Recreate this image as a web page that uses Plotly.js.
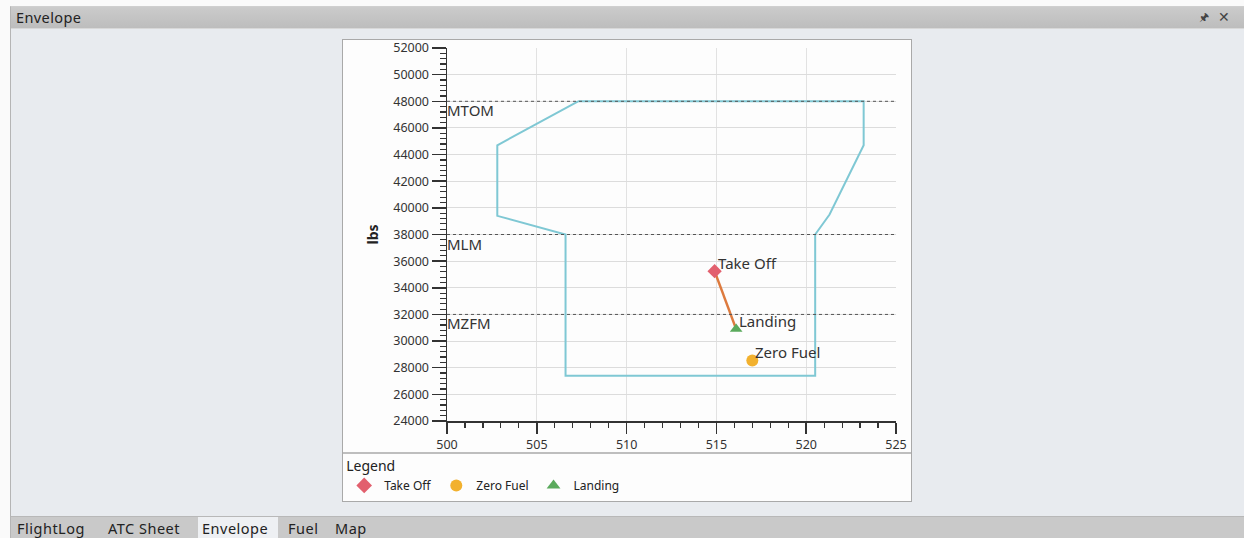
<!DOCTYPE html>
<html>
<head>
<meta charset="utf-8">
<script src="https://cdn.plot.ly/plotly-3.0.1.min.js"></script>
<style>
  html, body { margin:0; padding:0; width:1244px; height:538px; overflow:hidden; background:#fafafa; font-family:"Noto Sans", "Open Sans", sans-serif; }
  #frame { position:absolute; left:10px; top:6px; width:1234px; height:532px; border-left:1px solid #b5b5b5; border-top:1px solid #cfcfcf; background:#e8ebef; }
  #titlebar { position:absolute; left:0; top:0; width:1234px; height:21px; background:linear-gradient(#cbcbcb,#bdbdbd); border-bottom:1px solid #d8d8d8; }
  #titlebar .t { position:absolute; left:5px; top:0px; font-size:14.5px; letter-spacing:0.4px; color:#222; }
  #titlebar .pin { position:absolute; left:1188px; top:2px; font-size:11px; color:#444; }
  #titlebar .cls { position:absolute; left:1207px; top:0px; font-size:14px; color:#444; }
  #tabs { position:absolute; left:0; top:509px; width:1234px; height:23px; background:#c9c9c9; border-top:1px solid #b8b8b8; }
  .tab { position:absolute; top:1px; font-size:14.5px; letter-spacing:0.5px; color:#222; }
  #seltab { position:absolute; left:187px; top:0; width:80px; height:23px; background:#eef0f3; }
  #chartbox { position:absolute; left:343px; top:40px; width:568px; height:461px; }
  #panel { position:absolute; left:342px; top:39px; width:568px; height:461px; border:1px solid #a9a9a9; background:#fdfdfd; }
</style>
</head>
<body>
<div id="frame">
  <div id="titlebar"><span class="t">Envelope</span><span class="pin">&#x1F588;</span><span class="cls">&#x2715;</span></div>
  <div id="tabs">
    <div id="seltab"></div>
    <span class="tab" style="left:6px">FlightLog</span>
    <span class="tab" style="left:97px">ATC Sheet</span>
    <span class="tab" style="left:191px">Envelope</span>
    <span class="tab" style="left:277px">Fuel</span>
    <span class="tab" style="left:324px">Map</span>
  </div>
</div>
<div id="panel"></div>
<div id="chartbox"></div>
<script>
// ---- data ----
const envelopeX = [507.3, 523.2, 523.2, 521.3, 520.5, 520.5, 506.6, 506.6, 502.8, 502.8, 507.3];
const envelopeY = [48000, 48000, 44700, 39500, 38000, 27400, 27400, 38000, 39400, 44700, 48000];
const limitNames = ['MTOM', 'MLM', 'MZFM'];
const limitValues = [48000, 38000, 32000];
const pointNames = ['Take Off', 'Zero Fuel', 'Landing'];
const pointX = [514.9, 517.0, 516.1];
const pointY = [35250, 28550, 30900];
const pathNames = ['Take Off', 'Landing'];
const xTicks = [500, 505, 510, 515, 520, 525];
const yTicks = [24000, 26000, 28000, 30000, 32000, 34000, 36000, 38000, 40000, 42000, 44000, 46000, 48000, 50000, 52000];

// ---- styles ----
const pointSymbols = {'Take Off':'diamond', 'Zero Fuel':'circle', 'Landing':'triangle-up'};
const pointColors = {'Take Off':'#e2606e', 'Zero Fuel':'#f2b12e', 'Landing':'#5aaa5c'};
const pointSizes = {'Take Off':11, 'Zero Fuel':12, 'Landing':11};

const traces = [];
traces.push({
  type:'scatter', mode:'lines', x:envelopeX, y:envelopeY,
  line:{color:'#7fc8d4', width:2}, showlegend:false, hoverinfo:'skip'
});
const pathIdx = pathNames.map(n => pointNames.indexOf(n));
traces.push({
  type:'scatter', mode:'lines',
  x: pathIdx.map(i => pointX[i]), y: pathIdx.map(i => pointY[i]),
  line:{color:'#dd7a3e', width:2.5}, showlegend:false, hoverinfo:'skip'
});
pointNames.forEach((n, i) => {
  traces.push({
    type:'scatter', mode:'markers', name:n, x:[pointX[i]], y:[pointY[i]],
    marker:{symbol:pointSymbols[n], color:pointColors[n], size:pointSizes[n]}
  });
});

const shapes = limitValues.map(v => ({
  type:'line', xref:'paper', x0:0, x1:1, yref:'y', y0:v, y1:v,
  line:{color:'#555', width:1, dash:'dot'}, layer:'above'
}));
// legend separator
shapes.push({type:'line', xref:'paper', yref:'paper', x0:-0.235, x1:1.04, y0:-0.0858, y1:-0.0858,
  line:{color:'#a9a9a9', width:1.5}});

const annotations = [];
limitNames.forEach((n, i) => {
  annotations.push({x:0, xref:'paper', y:limitValues[i], yref:'y', text:n, showarrow:false,
    xanchor:'left', yanchor:'top', xshift:-2, yshift:3, font:{size:15, color:'#333'}});
});
pointNames.forEach((n, i) => {
  annotations.push({x:pointX[i], y:pointY[i], text:n, showarrow:false,
    xanchor:'left', yanchor:'bottom', xshift:1, yshift:-4, font:{size:15, color:'#333'}});
});

const layout = {
  width:568, height:461,
  margin:{l:104, r:15, t:8, b:80, autoexpand:false},
  paper_bgcolor:'rgba(0,0,0,0)', plot_bgcolor:'rgba(0,0,0,0)',
  font:{family:'"Noto Sans", "Open Sans", sans-serif', color:'#333'},
  xaxis:{range:[500, 525], tickvals:xTicks, ticktext:xTicks.map(String),
    showgrid:true, gridcolor:'#e2e2e2', zeroline:false,
    showline:true, linecolor:'#333', linewidth:1.5,
    ticks:'outside', ticklen:11, tickcolor:'#333', tickwidth:1.5,
    tickfont:{size:12.5, color:'#333'}, ticklabeloverflow:'allow',
    minor:{dtick:1, ticks:'outside', ticklen:5, tickcolor:'#333', tickwidth:1.2, showgrid:false}},
  yaxis:{range:[24000, 52001], tickvals:yTicks, ticktext:yTicks.map(String),
    showgrid:true, gridcolor:'#dcdcdc', zeroline:false,
    showline:true, linecolor:'#333', linewidth:1.5,
    ticks:'outside', ticklen:14, tickcolor:'#333', tickwidth:1.5,
    tickfont:{size:12.5, color:'#333'}, ticklabeloverflow:'allow',
    minor:{dtick:400, ticks:'outside', ticklen:6, tickcolor:'#333', tickwidth:1.2, showgrid:false},
    title:{text:'<b>lbs</b>', font:{size:14, color:'#222'}, standoff:11}},
  shapes:shapes,
  annotations:annotations,
  showlegend:true,
  legend:{orientation:'h', x:-0.229, xanchor:'left', y:-0.085, yanchor:'top',
    title:{text:'Legend', side:'top', font:{size:14, color:'#222'}},
    font:{size:12, color:'#222'}, bgcolor:'rgba(0,0,0,0)', borderwidth:0,
    itemsizing:'constant', tracegroupgap:0}
};

Plotly.newPlot('chartbox', traces, layout, {displayModeBar:false, staticPlot:true});
</script>
</body>
</html>
